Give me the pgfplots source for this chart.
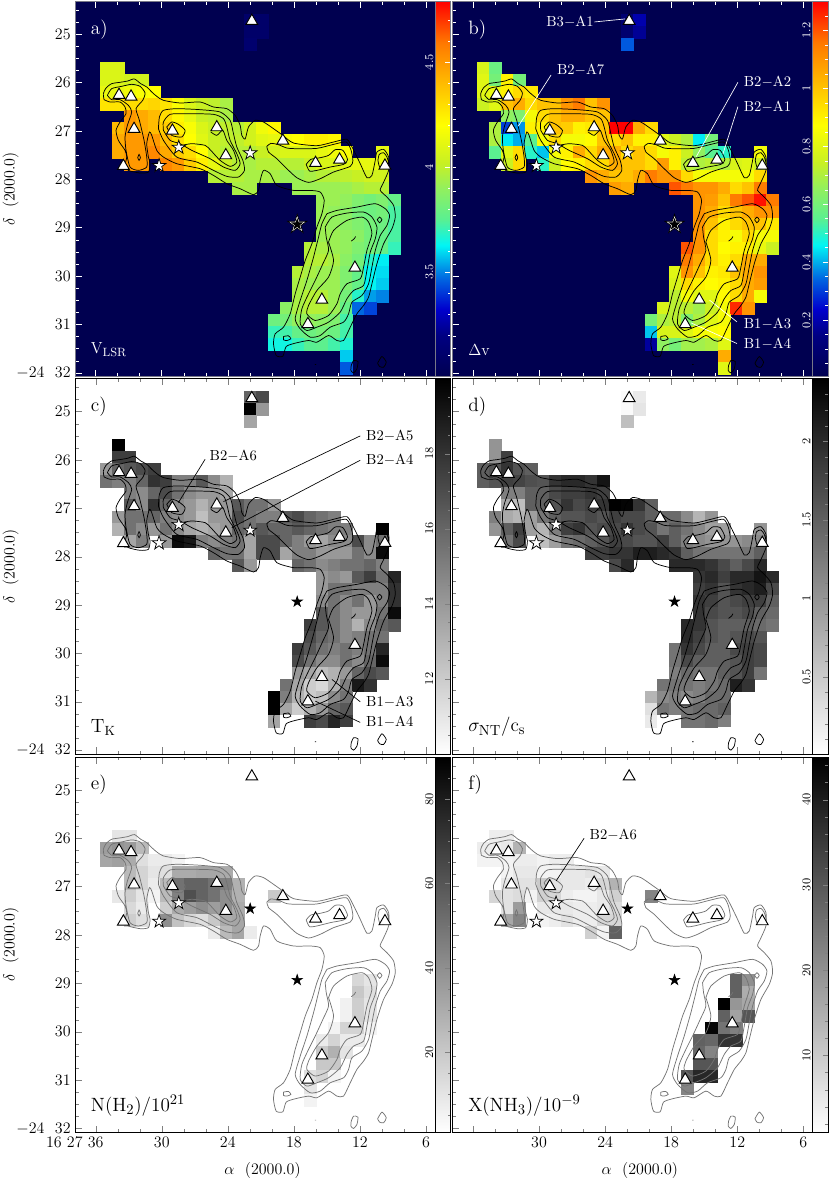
\documentclass[border=0pt]{standalone}
\usepackage{pgfplots}
\usepackage{pgfplotstable}
\pgfplotsset{compat=1.18}

\definecolor{bgnavy}{RGB}{0,0,80}
\definecolor{framegray}{RGB}{120,120,135}

% filled five-pointed star, the pgfplots star mark is only lines
\pgfdeclareplotmark{fstar}{%
  \pgfpathmoveto{\pgfpointpolar{90}{\pgfplotmarksize}}%
  \pgfpathlineto{\pgfpointpolar{126}{.382\pgfplotmarksize}}%
  \pgfpathlineto{\pgfpointpolar{162}{\pgfplotmarksize}}%
  \pgfpathlineto{\pgfpointpolar{198}{.382\pgfplotmarksize}}%
  \pgfpathlineto{\pgfpointpolar{234}{\pgfplotmarksize}}%
  \pgfpathlineto{\pgfpointpolar{270}{.382\pgfplotmarksize}}%
  \pgfpathlineto{\pgfpointpolar{306}{\pgfplotmarksize}}%
  \pgfpathlineto{\pgfpointpolar{342}{.382\pgfplotmarksize}}%
  \pgfpathlineto{\pgfpointpolar{18}{\pgfplotmarksize}}%
  \pgfpathlineto{\pgfpointpolar{54}{.382\pgfplotmarksize}}%
  \pgfpathclose\pgfusepathqfillstroke}

% map cells on the 15 arcsec grid: i, j are grid indices, columns a b c d are panels
\pgfplotstableread[row sep=\\]{
i j a b c d\\
12 0 3.1 .1 16 .05\\ 13 0 3.1 .2 17 .2\\
12 1 3.1 .09 20 .05\\ 13 1 3.1 .17 14 .25\\
12 2 3.12 .33 13.5 .6\\
0 4 4.08 .78 nan nan\\ 1 4 4.08 .58 20 1.0\\
0 5 4.08 .8 nan nan\\ 1 5 4.08 .6 17.5 1.0\\ 2 5 4.05 .9 17.5 1.8\\ 3 5 4.05 .6 nan nan\\
0 6 4.12 .8 14 1.5\\ 1 6 4.12 .82 16 1.6\\ 2 6 4.15 .9 16.5 1.9\\ 3 6 4.18 .95 17 1.6\\ 4 6 4.2 .92 17.5 1.5\\
0 7 4.28 .75 15.5 1.5\\ 1 7 4.28 .8 15 1.6\\ 2 7 4.3 1.0 15 1.8\\ 3 7 4.3 1.05 16 1.75\\ 4 7 4.32 .95 18 1.65\\
5 7 4.28 1.0 17.5 1.6\\ 6 7 4.18 1.0 15 1.9\\ 7 7 4.08 1.1 15 2.0\\ 8 7 4.02 1.15 16.5 2.0\\ 9 7 4.0 1.0 14.5 1.9\\ 10 7 3.95 1.1 13 2.2\\
2 8 4.5 .65 15 1.2\\ 3 8 4.45 .62 14.5 1.2\\ 4 8 4.4 .85 16 1.5\\ 5 8 4.3 .95 17 1.5\\ 6 8 4.22 1.0 15.5 1.7\\
7 8 4.12 1.05 14.5 1.8\\ 8 8 4.02 1.05 14 1.8\\ 9 8 4.0 1.0 14 1.9\\ 10 8 3.95 1.0 13.5 1.8\\
1 9 4.4 .7 nan nan\\ 2 9 4.5 .3 16.5 .8\\ 3 9 4.45 .38 14.5 .6\\ 4 9 4.4 .9 18 1.5\\ 5 9 4.35 .9 16 1.5\\ 6 9 4.25 1.0 14.5 1.6\\ 7 9 4.18 .98 14 1.9\\
8 9 4.08 .9 13 1.7\\ 9 9 4.02 .92 14 1.8\\ 10 9 4.0 1.0 14 1.9\\ 11 9 3.98 1.3 16.5 2.4\\ 12 9 4.05 1.3 15.5 2.35\\ 13 9 4.15 1.05 15.5 1.9\\ 14 9 4.22 .95 14 1.5\\
1 10 4.45 .7 14 1.2\\ 2 10 4.5 .45 15.5 .8\\ 3 10 4.5 .4 15.5 .7\\ 4 10 4.5 .55 16 .9\\ 5 10 4.4 .85 15 1.3\\ 6 10 4.3 .95 14.5 1.5\\ 7 10 4.2 .85 14 1.6\\
8 10 4.1 .85 12.5 1.6\\ 9 10 4.02 .88 14 1.7\\ 10 10 4.0 1.0 14 1.6\\ 11 10 4.0 .95 17 1.8\\ 12 10 4.05 1.0 15.5 1.7\\ 13 10 4.1 .9 15 1.7\\
14 10 4.12 .9 15 1.5\\ 15 10 4.18 .8 16.5 1.4\\ 16 10 4.2 .75 17 1.4\\ 17 10 4.24 .7 16 1.1\\ 18 10 4.24 .45 15.5 .7\\ 19 10 4.22 .6 15 1.0\\
1 11 4.45 .55 13 1.0\\ 2 11 4.5 .8 15.5 1.5\\ 3 11 4.5 .95 14.5 1.8\\ 4 11 4.55 .5 14 .9\\ 5 11 4.45 .42 15.5 .7\\ 6 11 4.35 .85 14.5 1.2\\ 7 11 4.3 .9 13.5 1.8\\
8 11 4.2 1.05 13 1.9\\ 9 11 4.02 .95 13.5 1.6\\ 10 11 3.98 1.05 14 1.7\\ 11 11 3.98 1.05 16 1.7\\ 12 11 3.98 .95 15.5 1.9\\ 13 11 4.02 1.0 16.5 1.7\\
14 11 4.05 .95 16 1.6\\ 15 11 4.08 .85 16 1.3\\ 16 11 4.08 .9 16.5 1.5\\ 17 11 4.08 .75 16 1.3\\ 18 11 4.12 .65 15.5 1.1\\ 19 11 4.15 .55 15 .9\\ 20 11 4.18 .5 15 .9\\ 23 11 4.12 .85 20 1.0\\
2 12 4.5 .75 13.5 1.3\\ 3 12 4.5 .95 15 1.7\\ 5 12 4.55 .5 14 .6\\ 6 12 4.5 .75 19.5 .9\\ 7 12 4.35 .88 19 1.3\\ 8 12 4.25 .9 15 1.4\\ 9 12 4.12 .95 14.5 1.5\\
10 12 4.02 .95 15 1.6\\ 11 12 3.98 1.05 15.5 1.8\\ 12 12 3.95 1.0 13.5 1.7\\ 13 12 3.98 1.0 17 1.6\\ 14 12 3.98 .95 17 1.6\\ 15 12 3.98 1.08 16 1.8\\ 16 12 3.98 .9 15 1.5\\
17 12 4.02 .72 14 1.2\\ 18 12 4.08 .7 13.5 1.1\\ 19 12 4.08 .72 14.5 1.0\\ 20 12 4.1 .7 14.5 1.0\\ 21 12 4.12 .78 17 1.0\\ 22 12 4.12 .8 14.5 1.1\\ 23 12 4.12 .75 15.5 1.1\\
9 13 3.98 1.1 16 1.8\\ 10 13 3.98 1.05 15.5 1.8\\ 11 13 3.98 1.0 15.5 1.9\\ 12 13 3.95 1.0 13.5 1.9\\ 13 13 3.95 1.05 17 2.1\\ 14 13 3.95 1.15 17 2.1\\ 15 13 3.92 1.1 13.5 2.0\\
16 13 3.92 1.1 15 1.9\\ 17 13 3.95 .95 15 1.5\\ 18 13 3.98 .85 14 1.3\\ 19 13 3.98 .85 14 1.3\\ 20 13 4.0 .85 14 1.3\\ 21 13 4.02 .85 15.5 1.3\\ 22 13 4.05 .85 14.5 1.3\\ 23 13 4.05 .95 19.5 1.5\\
11 14 3.95 1.08 16.5 1.7\\ 12 14 3.95 1.05 14 2.0\\ 16 14 3.92 1.2 16 2.0\\ 17 14 3.92 1.15 15.5 2.0\\ 18 14 3.92 1.1 14.5 2.0\\ 19 14 3.92 1.1 15 1.9\\
20 14 3.92 1.05 15.5 1.7\\ 21 14 3.95 .95 15.5 1.5\\ 22 14 3.98 1.0 16 1.7\\ 23 14 3.98 1.15 15 2.0\\
18 15 3.92 1.1 14 1.9\\ 19 15 3.92 1.08 14.5 2.0\\ 20 15 3.9 1.0 14 1.8\\ 21 15 3.85 1.15 16.5 2.0\\ 22 15 3.82 1.2 17.5 2.0\\ 23 15 3.85 1.28 15.5 2.2\\ 24 15 3.78 1.15 18.5 2.0\\
18 16 3.92 1.1 14 1.8\\ 19 16 3.9 1.05 15.5 1.9\\ 20 16 3.88 .95 15.5 1.6\\ 21 16 3.82 1.0 15 1.9\\ 22 16 3.8 1.05 15 2.0\\ 23 16 3.82 1.1 15 2.1\\ 24 16 3.73 1.1 18 1.7\\
18 17 3.92 1.1 14.5 1.9\\ 19 17 3.9 1.0 15.5 1.8\\ 20 17 3.88 .9 14.5 1.6\\ 21 17 3.85 .95 15.5 1.7\\ 22 17 3.82 1.0 14 1.8\\ 23 17 3.8 1.0 15 1.8\\ 24 17 3.73 .92 18 1.5\\
18 18 3.92 1.1 16.5 1.9\\ 19 18 3.92 .95 15.5 1.7\\ 20 18 3.9 .9 14.5 1.6\\ 21 18 3.88 .85 14 1.6\\ 22 18 3.82 .95 14 1.7\\ 23 18 3.78 .85 15.5 1.5\\ 24 18 3.73 .85 19.5 1.4\\
17 19 3.98 1.2 17.5 2.0\\ 18 19 3.95 1.1 16.5 1.9\\ 19 19 3.92 .95 15.5 1.6\\ 20 19 3.9 .88 14.5 1.5\\ 21 19 3.85 .9 13 1.5\\ 22 19 3.82 .9 14.5 1.5\\ 23 19 3.78 .82 16 1.4\\ 24 19 3.7 .75 16.5 1.3\\
17 20 3.98 1.15 17 2.0\\ 18 20 3.98 1.05 16 1.8\\ 19 20 3.95 .95 15.5 1.6\\ 20 20 3.88 .9 14.5 1.5\\ 21 20 3.82 .95 15 1.6\\ 22 20 3.68 1.05 15.5 1.7\\ 23 20 3.62 1.05 15.5 1.6\\
16 21 3.98 .8 17.5 1.3\\ 17 21 3.95 1.1 16.5 1.9\\ 18 21 3.92 1.0 15.5 1.7\\ 19 21 3.92 .9 15 1.5\\ 20 21 3.85 .92 15.5 1.5\\ 21 21 3.78 1.0 15 1.7\\ 22 21 3.63 1.05 15.5 1.8\\ 23 21 3.6 1.1 18.5 1.7\\
16 22 3.95 .78 17 1.3\\ 17 22 3.92 .95 15.5 1.7\\ 18 22 3.92 .9 14.5 1.5\\ 19 22 3.92 .88 14.5 1.5\\ 20 22 3.85 .9 15.5 1.5\\ 21 22 3.78 .95 14.5 1.6\\ 22 22 3.63 1.05 16 1.8\\ 23 22 3.58 1.08 19.5 1.7\\
16 23 3.95 .72 14 1.2\\ 17 23 3.98 .85 13.5 1.4\\ 18 23 3.98 .8 12.5 1.3\\ 19 23 3.92 .8 13 1.3\\ 20 23 3.82 .88 14 1.5\\ 21 23 3.68 .95 16 1.6\\ 22 23 3.53 1.05 17 1.8\\ 23 23 3.5 .85 16.5 1.3\\
15 24 3.88 .78 15.5 1.3\\ 16 24 3.95 .72 13.5 1.3\\ 17 24 3.98 .72 12 1.3\\ 18 24 3.98 .68 11.5 1.2\\ 19 24 3.92 .75 13 1.3\\ 20 24 3.78 .85 15 1.4\\ 21 24 3.47 1.25 19 2.1\\ 22 24 3.42 1.1 18 1.9\\
14 25 3.8 .6 20 .7\\ 15 25 3.82 .7 15 1.1\\ 16 25 3.9 .72 13 1.2\\ 17 25 3.9 .62 12 1.1\\ 18 25 3.88 .7 12.5 1.2\\ 19 25 3.85 .8 14.5 1.4\\ 20 25 3.72 .85 15.5 1.4\\
14 26 3.7 .42 20 .3\\ 15 26 3.72 .78 13.5 1.3\\ 16 26 3.78 .78 12 1.2\\ 17 26 3.8 .8 13 1.3\\ 18 26 3.83 .85 14 1.4\\ 19 26 3.8 .85 16 1.4\\ 20 26 3.72 .88 16.5 1.5\\
14 27 3.65 .18 13.5 .2\\ 15 27 3.65 .65 nan nan\\ 16 27 3.7 .6 nan nan\\ 17 27 3.75 .68 17.5 1.3\\ 18 27 3.76 .68 17 1.3\\ 19 27 3.72 .7 18.5 1.4\\ 20 27 3.67 .8 17.5 1.2\\
20 28 3.58 1.05 nan nan\\ 20 29 3.45 .8 nan nan\\
}\tcells

\pgfplotstableread[row sep=\\]{
i j e\\
1 5 10\\ 2 5 10\\
0 6 35\\ 1 6 38\\ 2 6 36\\ 3 6 25\\
0 7 32\\ 1 7 34\\ 2 7 30\\ 3 7 12\\ 4 7 8\\ 5 7 8\\ 6 7 5\\
2 8 25\\ 3 8 16\\ 4 8 10\\ 5 8 12\\ 6 8 30\\ 7 8 30\\ 8 8 32\\ 9 8 32\\ 10 8 30\\
2 9 25\\ 3 9 16\\ 4 9 8\\ 5 9 25\\ 6 9 50\\ 7 9 55\\ 8 9 55\\ 9 9 50\\ 10 9 45\\ 11 9 28\\
1 10 9\\ 2 10 18\\ 3 10 10\\ 4 10 5\\ 5 10 25\\ 6 10 45\\ 7 10 62\\ 8 10 55\\ 9 10 50\\ 10 10 40\\ 11 10 28\\ 14 10 20\\
2 11 14\\ 3 11 8\\ 5 11 18\\ 6 11 30\\ 7 11 35\\ 8 11 40\\ 9 11 35\\ 10 11 40\\ 11 11 30\\
2 12 18\\ 3 12 12\\ 5 12 40\\ 6 12 22\\ 7 12 15\\ 8 12 12\\ 9 12 20\\ 10 12 30\\ 11 12 32\\
9 13 8\\ 10 13 25\\ 11 13 32\\ 12 13 8\\
21 17 15\\ 22 17 10\\ 21 18 20\\ 22 18 12\\ 20 19 6\\ 21 19 18\\ 22 19 10\\ 20 20 6\\ 21 20 18\\ 22 20 10\\
19 21 5\\ 20 21 16\\ 21 21 16\\ 22 21 5\\ 18 22 8\\ 19 22 16\\ 20 22 8\\ 21 22 8\\ 18 23 20\\ 19 23 28\\ 20 23 10\\
18 24 20\\ 19 24 20\\ 17 25 12\\ 18 25 16\\ 19 25 5\\ 17 26 10\\ 17 27 5\\
}\tcellse

\pgfplotstableread[row sep=\\]{
i j f\\
1 5 4\\ 2 5 4\\
0 6 4\\ 1 6 4\\ 2 6 5\\ 3 6 14\\
0 7 3\\ 1 7 3\\ 2 7 3\\ 3 7 4\\ 4 7 4\\ 5 7 3\\ 6 7 4\\ 7 7 4\\
2 8 3\\ 3 8 5\\ 4 8 5\\ 5 8 3\\ 6 8 3\\ 7 8 5\\ 8 8 5\\ 9 8 6\\ 10 8 5\\
2 9 5\\ 3 9 6\\ 4 9 6\\ 5 9 10\\ 6 9 6\\ 7 9 5\\ 8 9 5\\ 9 9 4\\ 10 9 8\\ 11 9 14\\
1 10 8\\ 2 10 6\\ 3 10 7\\ 4 10 3\\ 5 10 9\\ 6 10 8\\ 7 10 4\\ 8 10 3\\ 9 10 3\\ 10 10 5\\ 11 10 9\\ 14 10 22\\
2 11 6\\ 3 11 18\\ 5 11 5\\ 6 11 5\\ 7 11 5\\ 8 11 4\\ 9 11 4\\ 10 11 5\\ 11 11 7\\
2 12 16\\ 3 12 22\\ 5 12 3\\ 6 12 4\\ 7 12 6\\ 8 12 4\\ 9 12 4\\ 10 12 8\\ 11 12 8\\
9 13 9\\ 10 13 3\\ 11 13 28\\
21 17 28\\ 22 17 20\\ 21 18 28\\ 22 18 15\\ 20 19 45\\ 21 19 19\\ 22 19 16\\ 20 20 28\\ 21 20 17\\ 22 20 30\\
19 21 44\\ 20 21 25\\ 21 21 23\\ 18 22 28\\ 19 22 27\\ 20 22 36\\ 21 22 36\\ 18 23 27\\ 19 23 22\\
18 24 30\\ 19 24 30\\ 17 25 30\\ 18 25 38\\ 19 25 38\\ 17 26 22\\
}\tcellsf

% contours, traced on the reference: zx, zy convert to RA, Dec by the trace style below
\pgfplotstableread[row sep=\\]{
zx zy\\
312 318\\ 310 300\\ 318 283\\ 335 270\\ 360 266\\ 383 262\\ 403 256\\ 422 270\\ 440 280\\ 455 295\\ 470 308\\ 490 320\\ 540 328\\ 600 325\\ 640 340\\ 680 345\\ 705 365\\ 720 395\\ 725 425\\ 735 436\\ 745 400\\ 765 380\\ 790 385\\ 820 405\\ 848 425\\ 880 448\\ 950 456\\ 1000 445\\ 1040 437\\ 1058 465\\ 1080 510\\ 1100 552\\ 1115 545\\ 1125 500\\ 1130 475\\ 1150 467\\ 1165 490\\ 1165 530\\ 1148 570\\ 1140 590\\ 1160 610\\ 1180 635\\ 1185 670\\ 1175 705\\ 1150 750\\ 1130 810\\ 1115 870\\ 1105 910\\ 1090 935\\ 1070 960\\ 1050 1000\\ 1030 1040\\ 1010 1040\\ 985 1025\\ 950 1045\\ 925 1040\\ 885 1048\\ 858 1058\\ 848 1087\\ 828 1085\\ 820 1050\\ 825 1020\\ 850 1000\\ 870 960\\ 885 900\\ 900 850\\ 915 800\\ 935 750\\ 950 700\\ 965 660\\ 972 620\\ 960 595\\ 930 590\\ 880 590\\ 830 575\\ 810 540\\ 790 530\\ 780 560\\ 775 590\\ 760 603\\ 720 585\\ 680 570\\ 640 545\\ 600 525\\ 530 510\\ 490 490\\ 470 470\\ 455 425\\ 448 415\\ 440 450\\ 445 490\\ 450 510\\ 445 535\\ 420 538\\ 385 530\\ 375 515\\ 380 490\\ 375 470\\ 355 440\\ 348 410\\ 360 385\\ 378 360\\ 375 340\\ 360 325\\ 330 325\\ 312 318\\
nan nan\\
800 458\\ 812 449\\ 835 453\\ 860 463\\ 890 465\\ 950 464\\ 1000 452\\ 1038 445\\ 1052 468\\ 1058 500\\ 1050 518\\ 1000 535\\ 960 555\\ 925 566\\ 890 552\\ 860 525\\ 830 495\\ 805 475\\ 800 458\\
nan nan\\
918 512\\ 932 497\\ 960 492\\ 985 485\\ 1005 468\\ 1028 470\\ 1042 498\\ 1030 512\\ 990 520\\ 950 530\\ 928 532\\ 918 512\\
nan nan\\
1133 500\\ 1137 482\\ 1150 477\\ 1160 490\\ 1165 512\\ 1150 525\\ 1138 520\\ 1133 500\\
nan nan\\
322 305\\ 335 285\\ 365 278\\ 395 272\\ 420 278\\ 435 298\\ 428 320\\ 408 345\\ 418 380\\ 432 440\\ 440 490\\ 440 520\\ 415 530\\ 390 520\\ 378 470\\ 375 430\\ 382 395\\ 395 355\\ 385 335\\ 360 318\\ 335 318\\ 322 305\\
nan nan\\
413 492\\ 417 482\\ 421 492\\ 417 500\\ 413 492\\
nan nan\\
475 405\\ 478 370\\ 490 350\\ 530 345\\ 600 348\\ 660 355\\ 690 380\\ 700 420\\ 710 460\\ 728 500\\ 733 530\\ 715 550\\ 680 548\\ 640 530\\ 590 505\\ 530 490\\ 490 440\\ 475 405\\
nan nan\\
490 410\\ 490 385\\ 510 362\\ 560 360\\ 640 362\\ 670 375\\ 680 400\\ 690 440\\ 710 480\\ 720 510\\ 705 530\\ 670 520\\ 630 495\\ 575 470\\ 540 450\\ 510 440\\ 490 410\\
nan nan\\
500 400\\ 515 385\\ 535 392\\ 555 410\\ 545 430\\ 515 425\\ 500 400\\
nan nan\\
545 455\\ 575 450\\ 615 455\\ 632 470\\ 660 500\\ 690 518\\ 710 505\\ 700 470\\ 680 440\\ 668 410\\ 650 425\\ 632 415\\
nan nan\\
980 660\\ 1010 650\\ 1070 640\\ 1125 630\\ 1155 645\\ 1168 665\\ 1160 695\\ 1140 725\\ 1125 770\\ 1115 820\\ 1105 870\\ 1085 905\\ 1055 925\\ 1045 960\\ 1030 985\\ 990 1000\\ 960 1025\\ 930 1030\\ 900 1005\\ 885 975\\ 900 920\\ 920 860\\ 940 790\\ 955 730\\ 965 690\\ 980 660\\
nan nan\\
975 700\\ 995 670\\ 1040 658\\ 1090 655\\ 1115 670\\ 1130 700\\ 1125 735\\ 1110 775\\ 1100 830\\ 1090 875\\ 1060 890\\ 1040 915\\ 1020 955\\ 985 985\\ 950 1000\\ 920 1010\\ 900 990\\ 905 945\\ 925 900\\ 945 860\\ 968 810\\ 985 770\\ 978 730\\ 975 700\\
nan nan\\
985 745\\ 1000 710\\ 1040 680\\ 1085 670\\ 1105 685\\ 1115 720\\ 1100 770\\ 1090 820\\ 1080 855\\ 1040 870\\ 1020 900\\ 1010 930\\ 985 965\\ 945 980\\ 920 960\\ 925 935\\ 950 890\\ 985 850\\ 1000 800\\ 985 745\\
nan nan\\
1131 678\\ 1138 670\\ 1145 678\\ 1138 687\\ 1131 678\\
nan nan\\
1053 742\\ 1062 735\\ 1066 728\\
nan nan\\
850 1028\\ 865 1026\\ 872 1035\\ 860 1040\\ 850 1038\\ 850 1028\\
nan nan\\
944 1112\\ 948 1112\\
nan nan\\
1053 1115\\ 1060 1100\\ 1073 1103\\ 1070 1125\\ 1060 1137\\ 1052 1130\\ 1053 1115\\
nan nan\\
1132 1108\\ 1145 1088\\ 1158 1105\\ 1150 1120\\ 1138 1118\\ 1132 1108\\
}\tcontour

\pgfplotstableread[row sep=\\]{
zx zy\\
357 304\\ 393 309\\ 402 406\\ 370 517\\ 517 411\\ 650 401\\ 677 485\\ 848 441\\ 946 508\\ 1018 498\\ 1154 516\\ 755 82\\ 1064 822\\ 965 918\\ 923 991\\
}\ttri
\pgfplotstableread[row sep=\\]{
zx zy\\ 477 516\\ 536 461\\
}\tstarw
\pgfplotstableread[row sep=\\]{
zx zy\\ 750 478\\
}\tstarm
\pgfplotstableread[row sep=\\]{
zx zy\\ 891 692\\
}\tstarb

\newcommand\zc[2]{(axis cs:{36-(#1-287)/33},{25+(#2-122)/145})}
\newcommand\lab[4]{\node[anchor=west,inner sep=0pt,text=#1,font=\fontsize{10.5}{12}\selectfont] at \zc{#2}{#3} {$\mathrm{#4}$};}
\newcommand\lead[5]{\draw[#1,line width=.5pt] \zc{#2}{#3} -- \zc{#4}{#5};}
\newcommand\corner[1]{\node[anchor=west,inner sep=0pt,font=\fontsize{14.5}{16}\selectfont] at \zc{272}{107} {#1};}
\newcommand\name[2][13]{\node[anchor=west,inner sep=0pt,font=\fontsize{#1}{15}\selectfont] at \zc{272}{1068} {#2};}
\newcommand\cellplot[2]{\addplot[cellstyle,point meta=\thisrow{#2}] table[gridcell] {#1};}
\newcommand\contourplot[1]{\addplot[no markers,smooth,tension=.4,color=#1,line width=.55pt,unbounded coords=jump] table[trace] {\tcontour};}
\newcommand\triplot{\addplot[only marks,mark=triangle*,mark size=5.1pt,mark options={fill=white,draw=black,line width=.7pt}] table[trace] {\ttri};}
\newcommand\starplot[3]{\addplot[only marks,mark=fstar,mark size=#2,mark options={fill=#3,draw=black,line width=.55pt}] table[trace] {#1};}

\pgfplotsset{
  table/trace/.style={x expr=36-(\thisrow{zx}-287)/33,y expr=25+(\thisrow{zy}-122)/145},
  table/gridcell/.style={x expr=36-(31+36*\thisrow{i})/33,y expr=25+(36*\thisrow{j}-43)/145},
  cellstyle/.style={only marks,scatter,mark=square*,mark size=4.5pt,
    scatter/use mapped color={draw=mapped color,fill=mapped color},mark options={line width=.1pt}},
  panel/.style={
    anchor=south west,scale only axis,width=270pt,height=281.5pt,
    x dir=reverse,y dir=reverse,
    xmin=5.15,xmax=37.85,ymin=24.32,ymax=32.08,
    xtick={36,30,24,18,12,6},minor xtick={34,32,28,26,22,20,16,14,10,8},
    ytick={25,...,32},minor ytick={24.5,24.75,25.25,25.5,25.75,26.25,26.5,26.75,27.25,27.5,27.75,28.25,28.5,28.75,29.25,29.5,29.75,30.25,30.5,30.75,31.25,31.5,31.75},
    xticklabels={},yticklabels={},
    tick align=inside,ytick pos=left,xtick pos=both,
    major tick length=5pt,minor tick length=2.6pt,
    tick label style={font=\fontsize{12}{14}\selectfont},
    clip=true,clip mode=individual,axis on top,
    axis line style={line width=.6pt},
    colorbar,
  },
  cbar/.style 2 args={
    at={(1,1)},anchor=north west,xshift=0pt,yshift=0pt,
    scale only axis,width=11.6pt,height=281.5pt,
    ytick={#1},minor ytick={#2},
    ytick pos=right,yticklabel pos=left,tick align=inside,
    major tick length=4pt,minor tick length=2pt,
    axis line style={line width=.5pt},
    yticklabel style={rotate=90,anchor=south,font=\fontsize{9}{10}\selectfont,/pgf/number format/fixed,inner sep=1.5pt},
    xtick=\empty,
  },
  darkpanel/.style={axis background/.style={fill=bgnavy},
    tick style={white,line width=.4pt},axis line style={framegray,line width=.6pt},
    colormap={vel}{rgb255(0)=(0,0,80);rgb255(11)=(0,0,130);rgb255(18)=(0,0,205);rgb255(26)=(0,100,225);rgb255(35)=(0,245,245);rgb255(42)=(90,240,145);rgb255(50)=(145,240,95);rgb255(57)=(200,240,35);rgb255(67)=(255,255,0);rgb255(81)=(255,170,0);rgb255(89)=(255,120,0);rgb255(100)=(255,0,0)}},
  greypanel/.style={colormap={greyrev}{gray(0)=(1);gray(100)=(0)}},
  leftlabels/.style={ylabel={$\delta$\ \ (2000.0)},
    ylabel style={font=\fontsize{12}{14}\selectfont,at={(axis description cs:-.18,.5)},anchor=center},
    yticklabels={25,26,27,28,29,30,31,$-$24\ \ 32},
    yticklabel style={/pgf/number format/assume math mode=true}},
  xname/.style={xlabel={$\alpha$\ \ (2000.0)},
    xlabel style={font=\fontsize{12}{14}\selectfont,at={(axis description cs:.52,-.102)},anchor=center}},
}

\begin{document}
\begin{tikzpicture}
\useasboundingbox (0pt,0pt) rectangle (622.5pt,884.25pt);
\coordinate (pa) at (56.5pt,601.7pt);
\coordinate (pb) at (339.5pt,601.7pt);
\coordinate (pc) at (56.5pt,318.75pt);
\coordinate (pd) at (339.5pt,318.75pt);
\coordinate (pe) at (56.5pt,35pt);
\coordinate (pf) at (339.5pt,35pt);

% a) velocity
\begin{axis}[panel,darkpanel,leftlabels,at={(pa)},
  point meta min=3.0,point meta max=4.79,
  colorbar style={cbar={3.5,4,4.5}{3.1,3.2,3.3,3.4,3.6,3.7,3.8,3.9,4.1,4.2,4.3,4.4,4.6,4.7},yticklabel style={white},tick style={white,line width=.4pt},axis line style={framegray}}]
\cellplot{\tcells}{a}
\contourplot{black}
\triplot
\starplot{\tstarw}{5.4pt}{white}
\starplot{\tstarm}{5.4pt}{white}
\starplot{\tstarb}{7.5pt}{white}
\starplot{\tstarb}{4pt}{black}
\corner{\color{white}a)}
\name{\color{white}$\mathrm{V_{LSR}}$}
\end{axis}

% b) line width
\begin{axis}[panel,darkpanel,at={(pb)},
  point meta min=0.005,point meta max=1.3,
  colorbar style={cbar={.2,.4,.6,.8,1,1.2}{.05,.1,.15,.25,.3,.35,.45,.5,.55,.65,.7,.75,.85,.9,.95,1.05,1.1,1.15,1.25},yticklabel style={white},tick style={white,line width=.4pt},axis line style={framegray}}]
\cellplot{\tcells}{b}
\contourplot{black}
\lead{white}{651}{85}{743}{76}
\lead{white}{521}{244}{423}{397}
\lead{white}{1081}{266}{956}{489}
\lead{white}{1081}{339}{1036}{481}
\lead{white}{1078}{984}{996}{919}
\lead{white}{1078}{1049}{940}{987}
\triplot
\starplot{\tstarw}{5.4pt}{white}
\starplot{\tstarm}{5.4pt}{white}
\starplot{\tstarb}{7.5pt}{white}
\starplot{\tstarb}{4pt}{black}
\corner{\color{white}b)}
\name{\color{white}$\Delta\mathrm{v}$}
\lab{white}{506}{85}{B3{-}A1}
\lab{white}{538}{229}{B2{-}A7}
\lab{white}{1098}{266}{B2{-}A2}
\lab{white}{1098}{339}{B2{-}A1}
\lab{white}{1098}{991}{B1{-}A3}
\lab{white}{1098}{1052}{B1{-}A4}
\end{axis}

% c) kinetic temperature
\begin{axis}[panel,greypanel,leftlabels,at={(pc)},
  point meta min=10,point meta max=20,
  colorbar style={cbar={12,14,16,18}{10.5,11,11.5,12.5,13,13.5,14.5,15,15.5,16.5,17,17.5,18.5,19,19.5}}]
\cellplot{\tcells}{c}
\contourplot{black}
\lead{black}{615}{265}{535}{395}
\lead{black}{1080}{195}{670}{392}
\lead{black}{1080}{268}{695}{470}
\lead{black}{1080}{992}{995}{925}
\lead{black}{1080}{1054}{945}{990}
\triplot
\starplot{\tstarw}{5.5pt}{white}
\starplot{\tstarm}{5.2pt}{white}
\starplot{\tstarb}{4pt}{black}
\corner{c)}
\name[14]{$\mathrm{T_K}$}
\lab{black}{628}{255}{B2{-}A6}
\lab{black}{1097}{195}{B2{-}A5}
\lab{black}{1097}{268}{B2{-}A4}
\lab{black}{1097}{992}{B1{-}A3}
\lab{black}{1097}{1054}{B1{-}A4}
\end{axis}

% d) non-thermal width
\begin{axis}[panel,greypanel,at={(pd)},
  point meta min=0.008,point meta max=2.4,
  colorbar style={cbar={.5,1,1.5,2}{.1,.2,.3,.4,.6,.7,.8,.9,1.1,1.2,1.3,1.4,1.6,1.7,1.8,1.9,2.1,2.2,2.3}}]
\cellplot{\tcells}{d}
\contourplot{black}
\triplot
\starplot{\tstarw}{5.5pt}{white}
\starplot{\tstarm}{5.2pt}{white}
\starplot{\tstarb}{4pt}{black}
\corner{d)}
\name[15.5]{$\sigma_{\mathrm{NT}}/\mathrm{c_s}$}
\end{axis}

% e) column density
\begin{axis}[panel,greypanel,leftlabels,xname,at={(pe)},
  xticklabels={\llap{16 27 }36,30,24,18,12,6},
  point meta min=1,point meta max=90,
  colorbar style={cbar={20,40,60,80}{5,10,15,25,30,35,45,50,55,65,70,75,85}}]
\cellplot{\tcellse}{e}
\contourplot{black!55}
\triplot
\starplot{\tstarw}{5.2pt}{white}
\starplot{\tstarm}{4pt}{black}
\starplot{\tstarb}{4pt}{black}
\corner{e)}
\name[15.5]{$\mathrm{N(H_2)/10^{21}}$}
\end{axis}

% f) abundance
\begin{axis}[panel,greypanel,xname,at={(pf)},
  xticklabels={,30,24,18,12,6},
  point meta min=1,point meta max=45,
  colorbar style={cbar={10,20,30,40}{2,4,6,8,12,14,16,18,22,24,26,28,32,34,36,38,42,44}}]
\cellplot{\tcellsf}{f}
\contourplot{black!55}
\lead{black}{620}{267}{536}{395}
\triplot
\starplot{\tstarw}{5.2pt}{white}
\starplot{\tstarm}{4pt}{black}
\starplot{\tstarb}{4pt}{black}
\corner{f)}
\name[15.5]{$\mathrm{X(NH_3)/10^{-9}}$}
\lab{black}{636}{258}{B2{-}A6}
\end{axis}
\end{tikzpicture}
\end{document}
